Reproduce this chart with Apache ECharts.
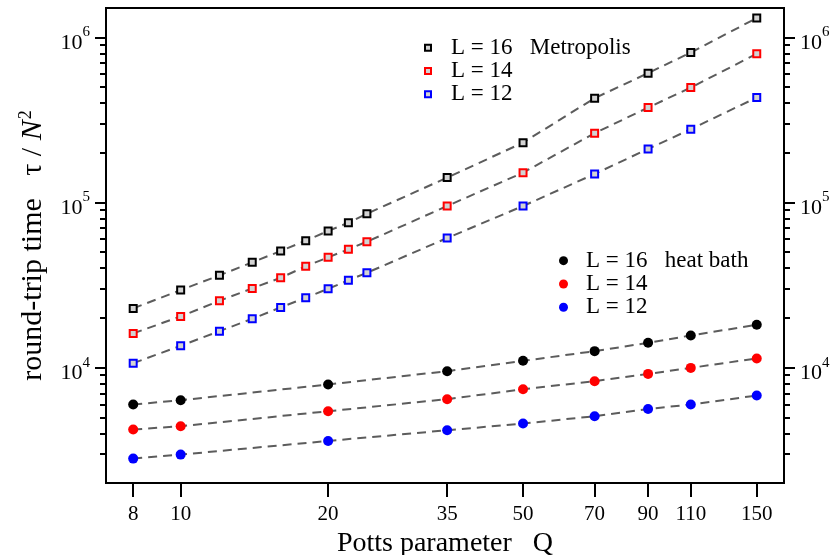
<!DOCTYPE html>
<html>
<head>
<meta charset="utf-8">
<script src="https://cdn.jsdelivr.net/npm/echarts@6/dist/echarts.min.js"></script>
<style>
    html, body { margin: 0; padding: 0; background: #fff; }
    #chart { width: 835px; height: 555px; }
</style>
</head>
<body>
<div id="chart"></div>
<script>
// Potts model round-trip times, log-log

var qMetro = [8, 10, 12, 14, 16, 18, 20, 22, 24, 35, 50, 70, 90, 110, 150];
var metro16 = [22850, 29490, 36210, 43410, 50830, 58680, 67210, 75450, 85510, 141400, 230300, 428000, 606700, 808900, 1307700];
var metro14 = [16120, 20430, 25400, 30200, 35010, 41050, 46550, 52050, 57870, 95200, 151600, 262700, 375400, 496300, 794300];
var metro12 = [10650, 13560, 16640, 19760, 23160, 26490, 30030, 33780, 37530, 60930, 95200, 148800, 211000, 277700, 431700];

var qHeat = [8, 10, 20, 35, 50, 70, 90, 110, 150];
var heat16 = [5984, 6353, 7911, 9524, 11000, 12590, 14140, 15670, 18170];
var heat14 = [4222, 4421, 5450, 6444, 7407, 8284, 9171, 9972, 11370];
var heat12 = [2816, 2977, 3601, 4180, 4590, 5083, 5627, 5984, 6785];

var xTicks = [8, 10, 20, 35, 50, 70, 90, 110, 150];
var yMajor = [1e4, 1e5, 1e6];
var yMinor = [3000, 4000, 5000, 6000, 7000, 8000, 9000,
    20000, 30000, 40000, 50000, 60000, 70000, 80000, 90000,
    200000, 300000, 400000, 500000, 600000, 700000, 800000, 900000];

var legendNames = {
    M16: 'L = 16   Metropolis',
    M14: 'L = 14',
    M12: 'L = 12',
    H16: 'L = 16   heat bath',
    H14: 'L = 14',
    H12: 'L = 12'
};

var FONT = '"Liberation Serif", "Times New Roman", serif';
var X_MIN = 7.04, X_MAX = 170.5;
var Y_MIN = 2004, Y_MAX = 1.504e6;

function pairs(xs, ys) {
    var out = [];
    for (var i = 0; i < xs.length; i++) {
        out.push([xs[i], ys[i]]);
    }
    return out;
}

var dashLine = {
    color: '#5c5c5c',
    width: 2,
    type: [9, 6]
};

function metroSeries(name, data, color) {
    return {
        name: name,
        type: 'line',
        data: pairs(qMetro, data),
        symbol: 'rect',
        symbolSize: 7,
        itemStyle: { color: '#d3d3d3', borderColor: color, borderWidth: 2 },
        lineStyle: dashLine,
        emphasis: { disabled: true },
        z: 3
    };
}

function heatSeries(name, data, color) {
    return {
        name: name,
        type: 'line',
        data: pairs(qHeat, data),
        symbol: 'circle',
        symbolSize: 10,
        itemStyle: { color: color },
        lineStyle: dashLine,
        emphasis: { disabled: true },
        z: 3
    };
}

var powLabel = {
    show: true,
    formatter: function (v) {
        var e = Math.round(Math.log(v) / Math.LN10);
        return '{b|10}{s|' + e + '}';
    },
    rich: {
        b: { fontFamily: FONT, fontSize: 22, lineHeight: 22, color: '#000', padding: [13, 0, 1, 0] },
        s: { fontFamily: FONT, fontSize: 15, lineHeight: 14, color: '#000', padding: [6, 0, 16, 0] }
    }
};

function yAxisMajor(pos) {
    return {
        type: 'log',
        position: pos,
        min: Y_MIN,
        max: Y_MAX,
        axisLine: { show: true, lineStyle: { color: '#000', width: 2 } },
        axisTick: { show: true, customValues: yMajor, length: 11, lineStyle: { color: '#000', width: 2 } },
        axisLabel: Object.assign({ customValues: yMajor, margin: 16 }, powLabel),
        splitLine: { show: false },
        minorTick: { show: false }
    };
}

function yAxisMinor(pos) {
    return {
        type: 'log',
        position: pos,
        min: Y_MIN,
        max: Y_MAX,
        axisLine: { show: false },
        axisTick: { show: true, customValues: yMinor, length: 6, lineStyle: { color: '#000', width: 2 } },
        axisLabel: { show: false },
        splitLine: { show: false }
    };
}

var legendText = {
    fontFamily: FONT,
    fontSize: 23,
    lineHeight: 23.3,
    color: '#000'
};

var option = {
    animation: false,
    backgroundColor: '#fff',
    grid: {
        left: 106,
        right: 51,
        top: 8,
        bottom: 72,
        show: true,
        borderColor: '#000',
        borderWidth: 2,
        outerBoundsMode: 'none'
    },
    legend: [{
        orient: 'vertical',
        left: 424,
        top: 36,
        padding: 0,
        itemGap: 0,
        itemWidth: 6,
        itemHeight: 6,
        selectedMode: false,
        data: [
            { name: 'M16', icon: 'rect', itemStyle: { color: '#d3d3d3', borderColor: '#000', borderWidth: 2 } },
            { name: 'M14', icon: 'rect', itemStyle: { color: '#d3d3d3', borderColor: '#ff0000', borderWidth: 2 } },
            { name: 'M12', icon: 'rect', itemStyle: { color: '#d3d3d3', borderColor: '#0000ff', borderWidth: 2 } }
        ],
        formatter: function (n) { return legendNames[n]; },
        textStyle: Object.assign({ padding: [0, 0, 0, 15] }, legendText)
    }, {
        orient: 'vertical',
        left: 559,
        top: 249,
        padding: 0,
        itemGap: 0,
        itemWidth: 9,
        itemHeight: 9,
        selectedMode: false,
        data: [
            { name: 'H16', icon: 'circle', itemStyle: { color: '#000' } },
            { name: 'H14', icon: 'circle', itemStyle: { color: '#ff0000' } },
            { name: 'H12', icon: 'circle', itemStyle: { color: '#0000ff' } }
        ],
        formatter: function (n) { return legendNames[n]; },
        textStyle: Object.assign({ padding: [0, 0, 0, 13] }, legendText)
    }],
    xAxis: {
        type: 'log',
        min: X_MIN,
        max: X_MAX,
        name: 'Potts parameter   Q',
        nameLocation: 'middle',
        nameGap: 40,
        nameTextStyle: { fontFamily: FONT, fontSize: 28, color: '#000' },
        axisLine: { show: true, lineStyle: { color: '#000', width: 2 } },
        axisTick: { show: true, customValues: xTicks, length: 14, lineStyle: { color: '#000', width: 2 } },
        axisLabel: {
            customValues: xTicks,
            margin: 21,
            fontFamily: FONT,
            fontSize: 21,
            color: '#000',
            formatter: function (v) { return String(Math.round(v)); }
        },
        splitLine: { show: false }
    },
    yAxis: [
        Object.assign(yAxisMajor('left'), {
            name: '{a|round-trip time   τ / }{i|N}{s|2}',
            nameLocation: 'middle',
            nameGap: 50,
            nameRotate: 90,
            nameTextStyle: {
                rich: {
                    a: { fontFamily: FONT, fontSize: 30, lineHeight: 32, color: '#000' },
                    i: { fontFamily: FONT, fontSize: 30, lineHeight: 32, fontStyle: 'italic', color: '#000' },
                    s: { fontFamily: FONT, fontSize: 18, lineHeight: 18, color: '#000', padding: [0, 0, 14, 1] }
                }
            }
        }),
        yAxisMajor('right'),
        yAxisMinor('left'),
        yAxisMinor('right')
    ],
    series: [
        metroSeries('M16', metro16, '#000'),
        metroSeries('M14', metro14, '#ff0000'),
        metroSeries('M12', metro12, '#0000ff'),
        heatSeries('H16', heat16, '#000'),
        heatSeries('H14', heat14, '#ff0000'),
        heatSeries('H12', heat12, '#0000ff')
    ]
};

var chart = echarts.init(document.getElementById('chart'), null, { renderer: 'canvas' });
chart.setOption(option);
</script>
</body>
</html>
